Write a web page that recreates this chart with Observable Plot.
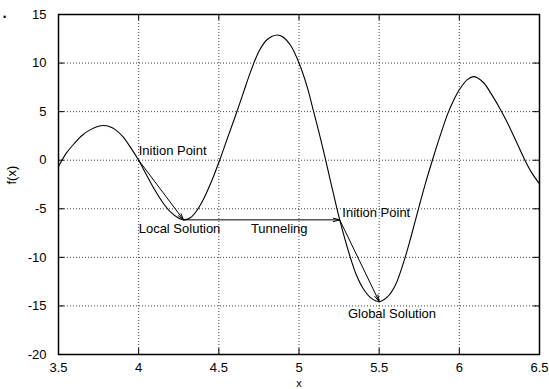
<!DOCTYPE html>
<html><head><meta charset="utf-8">
<script src="https://cdn.jsdelivr.net/npm/d3@7"></script>
<script src="https://cdn.jsdelivr.net/npm/@observablehq/plot@0.6"></script>
<style>
body{margin:0;background:#fff;font-family:"Liberation Sans",Arial,sans-serif;}
#wrap{position:relative;width:549px;height:389px;overflow:hidden;}
#dot{position:absolute;left:3px;top:11px;font-size:9px;line-height:12px;color:#000;}
</style></head><body><div id="wrap"><span id="dot">•</span></div>
<script>
// curve samples
const xs = [3.50,3.55,3.60,3.65,3.70,3.75,3.783,3.82,3.85,3.90,3.95,4.00,4.05,4.10,4.15,4.20,4.25,4.28,4.32,4.36,4.40,4.45,4.505,4.55,4.60,4.65,4.70,4.75,4.80,4.864,4.90,4.95,5.00,5.05,5.088,5.13,5.165,5.20,5.254,5.32,5.36,5.40,5.45,5.50,5.55,5.60,5.662,5.70,5.745,5.79,5.832,5.88,5.928,5.97,6.00,6.05,6.092,6.15,6.20,6.264,6.30,6.35,6.409,6.45,6.50];
const ys = [-0.65,0.75,1.75,2.6,3.15,3.5,3.57,3.45,3.2,2.45,1.3,0,-1.55,-3.05,-4.35,-5.35,-5.98,-6.14,-5.95,-5.25,-4.15,-2.35,0,2.1,4.4,6.8,9.2,11.2,12.4,12.89,12.68,11.75,10,7.6,5.2,2.5,0.1,-2.4,-6.15,-10,-11.9,-13.2,-14.2,-14.55,-14.1,-12.9,-10,-7.8,-5,-2.3,0,2.5,4.8,6.35,7.25,8.3,8.6,8.0,6.8,5,3.85,2.1,0,-1.25,-2.43];

const xTicks = [3.5,4,4.5,5,5.5,6,6.5];
const yTicks = [-20,-15,-10,-5,0,5,10,15];

const labelText = ["Inition Point","Local Solution","Tunneling","Inition Point","Global Solution"];
const labelX = [4.0,4.0,4.7,5.27,5.305];
const labelY = [1.0,-7.1,-7.1,-5.4,-15.8];

const arrowX1 = [4.0,4.28,5.254];
const arrowY1 = [0,-6.14,-6.14];
const arrowX2 = [4.28,5.254,5.50];
const arrowY2 = [-6.14,-6.14,-14.55];

const xLabel = "x";
const yLabel = "f(x)";

const curve = xs.map((x,i)=>({x, y: ys[i]}));
const labels = labelText.map((t,i)=>({t, x: labelX[i], y: labelY[i]}));
const arrows = arrowX1.map((x1,i)=>({x1, y1: arrowY1[i], x2: arrowX2[i], y2: arrowY2[i]}));

const W = 549, H = 389, mL = 58, mR = 10, mT = 14, mB = 35;
const fw = W - mL - mR, fh = H - mT - mB, tk = 6;
const font = "'Liberation Sans', Arial, sans-serif";

const chart = Plot.plot({
  width: W, height: H,
  marginLeft: mL, marginRight: mR, marginTop: mT, marginBottom: mB,
  style: {fontFamily: font, fontSize: "13px", background: "transparent", color: "#000"},
  x: {domain: [3.5, 6.5], label: null},
  y: {domain: [-20, 15], label: null},
  marks: [
    Plot.gridX(xTicks, {stroke: "#000", strokeOpacity: 0.75, strokeDasharray: "1,2"}),
    Plot.gridY(yTicks, {stroke: "#000", strokeOpacity: 0.75, strokeDasharray: "1,2"}),
    Plot.ruleX(xTicks, {x: d => d, insetTop: fh - tk, stroke: "#000"}),
    Plot.ruleX(xTicks, {x: d => d, insetBottom: fh - tk, stroke: "#000"}),
    Plot.ruleY(yTicks, {y: d => d, insetRight: fw - tk, stroke: "#000"}),
    Plot.ruleY(yTicks, {y: d => d, insetLeft: fw - tk, stroke: "#000"}),
    Plot.line(curve, {x: "x", y: "y", curve: "catmull-rom", stroke: "#000", strokeWidth: 1.1}),
    Plot.arrow(arrows, {x1: "x1", y1: "y1", x2: "x2", y2: "y2", stroke: "#000", strokeWidth: 1, headLength: 10, headAngle: 30}),
    Plot.text(labels, {x: "x", y: "y", text: "t", textAnchor: "start", lineAnchor: "middle", fill: "#000", fontSize: 13}),
    Plot.frame({stroke: "#000", strokeWidth: 1.5}),
    Plot.axisX(xTicks, {tickSize: 0, tickPadding: 8, tickFormat: d => String(d), label: null, fontSize: 13}),
    Plot.axisY(yTicks, {tickSize: 0, tickPadding: 12, tickFormat: d => String(d), label: null, fontSize: 13}),
    Plot.text([xLabel], {frameAnchor: "bottom", dy: 32, lineAnchor: "bottom", text: d => d, fill: "#000", fontSize: 11}),
    Plot.text([yLabel], {frameAnchor: "left", dx: -47, rotate: -90, text: d => d, fill: "#000", fontSize: 13})
  ]
});
document.getElementById("wrap").appendChild(chart);
chart.style.position = "absolute";
chart.style.left = "0px";
chart.style.top = "0px";
</script>
</body></html>
